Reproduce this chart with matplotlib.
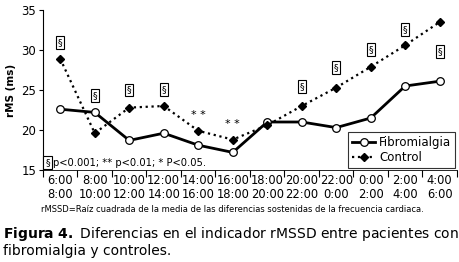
import numpy as np
import matplotlib.pyplot as plt

# Periods (start / end hours)
periods = ["6:00\n8:00", "8:00\n10:00", "10:00\n12:00", "12:00\n14:00",
           "14:00\n16:00", "16:00\n18:00", "18:00\n20:00", "20:00\n22:00",
           "22:00\n0:00", "0:00\n2:00", "2:00\n4:00", "4:00\n6:00"]
fibromialgia = [22.6, 22.2, 18.7, 19.6, 18.1, 17.2, 21.0, 21.0, 20.3, 21.5, 25.5, 26.1]
control = [28.9, 19.6, 22.8, 23.0, 19.9, 18.8, 20.6, 23.0, 25.3, 27.9, 30.6, 33.5]

# Significance marks: (period index, y position, mark)
sig_idx = [0, 1, 2, 3, 4, 5, 7, 8, 9, 10, 11]
sig_y = [30.9, 24.3, 25.0, 25.1, 21.9, 20.7, 25.4, 27.8, 30.1, 32.6, 29.8]
sig_mark = ["box", "box", "box", "box", "**", "**", "box", "box", "box", "box", "box"]

plt.rcParams['font.family'] = ['DejaVu Sans']

fig = plt.figure(figsize=(4.6, 2.62), dpi=100)
ax = fig.add_axes([43 / 460, 92 / 262, 414 / 460, 160 / 262])

x = np.arange(len(periods))
ax.plot(x, fibromialgia, '-', color='black', lw=2.0, marker='o', ms=5.5,
        mfc='white', mec='black', mew=0.9, label='Fibromialgia', zorder=3)
ax.plot(x, control, ':', color='black', lw=1.6, marker='D', ms=4.5,
        mfc='black', mec='black', label='Control', zorder=3)

box = dict(boxstyle='square,pad=0.2', fc='white', ec='black', lw=0.8)
for i, yv, m in zip(sig_idx, sig_y, sig_mark):
    if m == "box":
        ax.text(x[i], yv, "§", ha='center', va='center', fontsize=6.8, bbox=box)
    else:
        ax.text(x[i], yv, "* *", ha='center', va='center', fontsize=8)

ax.text(-0.37, 15.9, "§", ha='center', va='center', fontsize=6.8, bbox=box)
ax.text(-0.2, 15.9, "p<0.001; ** p<0.01; * P<0.05.", ha='left', va='center',
        fontsize=7.2)

ax.set_xlim(-0.5, 11.5)
ax.set_ylim(15, 35)
ax.set_yticks([15, 20, 25, 30, 35])
ax.set_xticks(np.arange(-0.5, 12, 1))
ax.set_xticklabels([])
ax.set_xticks(x, minor=True)
ax.set_xticklabels(periods, minor=True, fontsize=8.3, linespacing=1.1)
ax.tick_params(axis='x', which='minor', length=0, pad=3)
ax.tick_params(axis='x', which='major', length=5, width=0.8, direction='out')
ax.tick_params(axis='y', length=3, width=0.8, labelsize=8.5, pad=2)
ax.spines['top'].set_visible(False)
ax.spines['right'].set_visible(False)
ax.spines['left'].set_linewidth(0.8)
ax.spines['bottom'].set_linewidth(0.6)
ax.set_ylabel("rMS (ms)", fontsize=7.5, fontweight='bold', labelpad=4)

leg = ax.legend(loc='lower right', fontsize=8.5, frameon=True, fancybox=False,
                edgecolor='black', borderaxespad=0.2, handlelength=2.0,
                borderpad=0.3, labelspacing=0.2, handletextpad=0.3)
leg.get_frame().set_linewidth(0.8)

fig.text(232 / 460, 1 - 209 / 262,
         "rMSSD=Raíz cuadrada de la media de las diferencias sostenidas de la frecuencia cardiaca.",
         ha='center', va='center', fontsize=6.0)

fig.text(3 / 460, 1 - 234 / 262, r"$\bf{Figura\ 4.}$ Diferencias en el indicador rMSSD entre pacientes con",
         ha='left', va='center', fontsize=10.0)
fig.text(3 / 460, 1 - 251 / 262, "fibromialgia y controles.",
         ha='left', va='center', fontsize=10.0)

fig.savefig("out.png", dpi=100)
